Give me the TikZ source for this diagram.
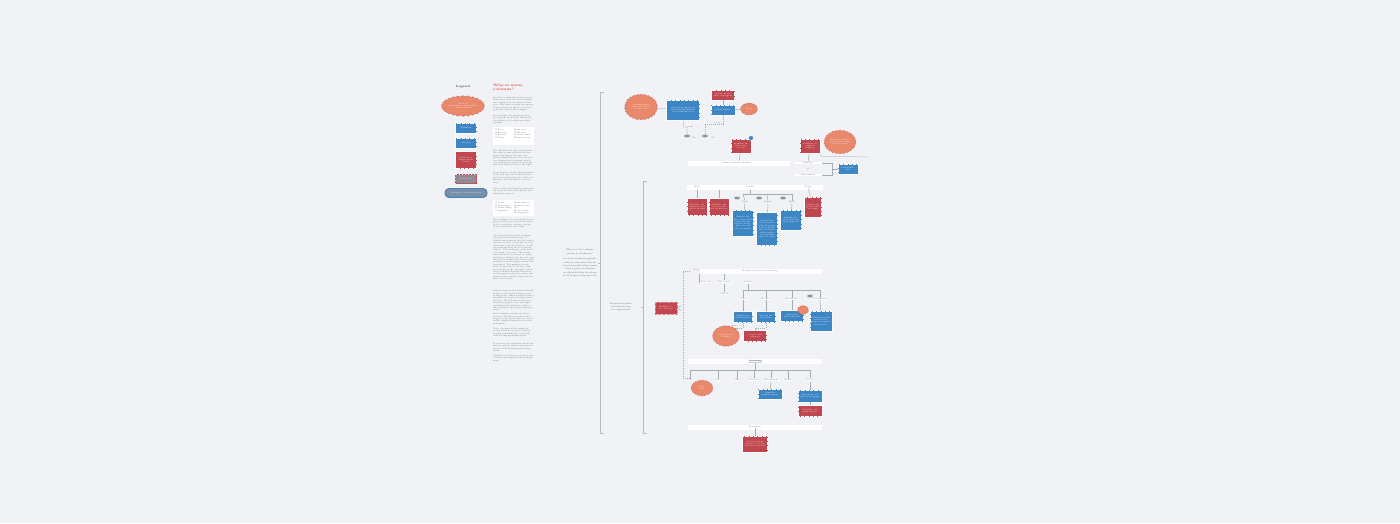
\documentclass[tikz,border=0pt]{standalone}
\usepackage{amssymb}
\usetikzlibrary{shapes.symbols,shapes.geometric,calc}
\definecolor{bg}{HTML}{F0F2F5}
\definecolor{bx}{HTML}{3D86C6}
\definecolor{rd}{HTML}{C0464F}
\definecolor{cl}{HTML}{E9886B}
\definecolor{ln}{HTML}{A4ABB4}
\definecolor{tx}{HTML}{5F6670}
\definecolor{hd}{HTML}{D8443C}
\definecolor{pg}{HTML}{8C949E}
\newcommand\ftiny{\fontsize{1.9}{2.3}\selectfont}
\newcommand\fpara{\fontsize{1.95}{2.4}\selectfont}
\newcommand\fctr{\fontsize{2.2}{3.3}\selectfont}
\tikzset{
  x=1pt, y=-1pt,
  every node/.style={inner sep=0.6pt, font=\ftiny, align=center},
  bluebox/.style={rectangle, fill=bx, draw=white, densely dotted, line width=0.3pt, text=white},
  redbox/.style={rectangle, fill=rd, draw=white, densely dotted, line width=0.3pt, text=white},
  grbox/.style={rectangle, fill=pg!85!rd, draw=rd, densely dotted, line width=0.5pt, text=white},
  pillbox/.style={rectangle, rounded corners=4pt, fill=pg!70!bx, draw=bx, line width=0.9pt, text=white,
     postaction={draw=rd, densely dotted, line width=0.4pt}},
  cloudn/.style={cloud, cloud puffs=26, cloud puff arc=110, cloud ignores aspect, fill=cl, draw=rd, densely dotted, line width=0.5pt, text=white},
  band/.style={rectangle, fill=white, draw=none, text=tx},
  lab/.style={rectangle, fill=white, draw=none, text=tx, inner sep=0.5pt},
  pill/.style={ellipse, fill=pg, draw=white, line width=0.3pt, minimum width=6.5, minimum height=3.6, inner sep=0},
  badge/.style={circle, fill=bx, draw=white, line width=0.4pt, minimum size=5, inner sep=0, text=white},
  para/.style={anchor=north west, text width=41pt, align=left, text=tx, font=\fpara, inner sep=0},
  ctext/.style={text width=36pt, align=center, text=tx, font=\fctr, inner sep=0},
  conn/.style={draw=ln, line width=0.5pt},
  dconn/.style={draw=ln, line width=0.5pt, dash pattern=on 1.2pt off 0.8pt},
  brk/.style={draw=ln!80, line width=0.6pt},
}
\begin{document}
\begin{tikzpicture}
\useasboundingbox (0,0) rectangle (1400,523);
\fill[bg] (0,0) rectangle (1400,523);

% ---------------- Legend ----------------
\node[font=\fontsize{3}{3.5}\selectfont\bfseries, text=tx!70!black] (legt) at (463,87) {Legend};
\node[cloudn, minimum width=38, minimum height=21] (lg1) at (463,106) {Issue or\\improvement opportunity\\in the process};
\node[bluebox, minimum width=21, minimum height=10] (lg2) at (466,128) {Workflow};
\node[bluebox, minimum width=21, minimum height=10] (lg3) at (466,143) {Activity};
\node[redbox, minimum width=21, minimum height=17] (lg4) at (466,160) {Problem or\\Improvement\\Status};
\node[grbox, minimum width=21, minimum height=9] (lg5) at (466,179) {Info Source};
\node[pillbox, minimum width=42, minimum height=9] (lg6) at (466,193) {Reference to other process};

% ---------------- Text column ----------------
\node[anchor=north west, text width=42pt, align=left, text=hd, font=\fontsize{3.4}{4.3}\selectfont\bfseries, inner sep=0] (head) at (493,84) {Why so many columns?};
\node[para] (p1) at (493,97) {In order to show the whole process from end to end, the map includes one column for every phase of the year. The same activity can appear in more than one phase, so it is repeated in each of the columns.};
\node[para] (p2) at (493,115) {For example, the planning activity happens in the first and in the last phase, so it is shown in both columns.};
\node[rectangle, fill=white, minimum width=41, minimum height=18, anchor=north west] (t1) at (493,127) {};
\node[para, text width=19pt] (t1a) at (495,129) {$\square$ Plan\\[0.3pt]$\square$ Execute\\$\square$ Review\\$\square$ Close};
\node[para, text width=19pt] (t1b) at (514,129) {Main actor\\[0.3pt]Team lead\\Process owner\\Finance team};
\node[para] (p3) at (493,150) {We also show the interaction with the other teams and with the systems that support the process. Each column therefore has its own list of inputs and outputs, which is read from the top to the bottom and then from the left to the right.};
\node[para] (p4) at (493,172) {Steps in grey are not owned by this team, but they are needed for the process to work properly. They are shown so that the hand-overs are clear.};
\node[para] (p5) at (493,188) {The second table lists the owners of the steps in each of the phases and their main contact.};
\node[rectangle, fill=white, minimum width=41, minimum height=16, anchor=north west] (t2) at (493,200) {};
\node[para, text width=19pt] (t2a) at (495,202) {$\square$ Actor\\[0.3pt]$\square$ Reporting\\$\square$ Controlling\\$\square$ Approval};
\node[para, text width=19pt] (t2b) at (514,202) {Main contact\\[0.3pt]Business partner\\Head of unit\\Management};
\node[para] (p6) at (493,219) {The columns are repeated for every phase of the year so that the whole cycle is visible at a glance and no step is missed by the teams.};
\node[para] (p7) at (493,235) {The arrows between the columns show the order of the steps. A dashed arrow means that the step is optional or that it depends on a decision that was taken before. A full arrow means that the step always follows. The small grey ovals mark a decision: yes or no. The clouds show where we see issues or opportunities to improve the process, and the red boxes show the status of the problem or of the improvement that is planned. The numbers in the blue circles refer to the list of improvements in the appendix, where each of them is described in more detail together with the owner, the planned date and the expected benefit for the teams.};
\node[para] (p8) at (493,290) {All the steps are described from the point of view of the business partnering team. When another team is involved, its name is written above the box. The left side of the map shows the preparation, the right side shows the follow-up of the results and the reporting to management.\\[1.5pt]Each column is read from top to bottom. The first row shows the trigger of the phase, the last one its result, which is handed over to the next phase.};
\node[para] (p9) at (493,328) {Note: the map will be updated at the end of every cycle with the lessons learned by the team and with the improvements made.};
\node[para] (p10) at (493,343) {If you have any questions about the process, please contact the process owner or the business partnering team.};
\node[para] (p11) at (493,355) {Version 1.2 of the process map, last reviewed and approved by management.};

% ---------------- Brackets and centre texts ----------------
\coordinate (b1t) at (600,92);
\coordinate (b1b) at (600,433);
\coordinate (b1m) at (600,263);
\draw[brk] ($(b1t)+(4,0)$) -- (b1t) -- (b1b) -- ++(4,0);
\draw[brk] (b1m) -- ++(-2.5,0);
\node[ctext] (c1) at (580,263) {Why are the columns shown in all phases?\\[2.5pt]because for phase-specific tasks we also show the interaction with other teams, a short guide on whether we should follow the steps in all stages of the process.};
\coordinate (b2t) at (643,181);
\coordinate (b2b) at (643,433);
\coordinate (b2m) at (643,307);
\draw[brk] ($(b2t)+(4,0)$) -- (b2t) -- (b2b) -- ++(4,0);
\draw[brk] (b2m) -- ++(-2.5,0);
\node[ctext, text width=29pt] (c2) at (621,307) {Prepared by business partnering in cooperation};

% ---------------- Top section ----------------
\node[cloudn, minimum width=33, minimum height=26] (tc1) at (641,107) {Missing input\\from the teams\\at the start};
\node[bluebox, minimum width=33, minimum height=20, text width=30pt] (tb1) at (683,110) {Collect the inputs for the planning from all the teams involved};
\node[redbox, minimum width=23, minimum height=10, text width=21pt] (tr1) at (723,95) {Status: partly done, in progress};
\node[bluebox, minimum width=24, minimum height=10, text width=22pt] (tb2) at (723,110) {Check inputs};
\node[cloudn, minimum width=17, minimum height=12] (tc2) at (749,109) {Delay};
\draw[dconn] (tc1) -- (tb1);
\draw[conn] (tr1) -- (tb2);
\draw[conn] (tb2) -- (tc2);
\node[pill] (pl1) at (687,136) {};
\node[pill] (pl2) at (705,136) {};
\node[text=tx] (yl1) at (694,138) {Yes};
\node[text=tx] (yl2) at (713,138) {No};
\draw[dconn] (tb1.south) -- (684,127) -| (pl1.north);
\draw[dconn] (tb2.south) -- (723,124) -| (pl2.north);
\node[text=tx] (tl1) at (690,127) {if ok};
\node[text=tx] (tl2) at (717,123) {if not};
\node[redbox, minimum width=20, minimum height=14, text width=18pt] (tr2) at (741,146) {Problem: inputs come too late};
\node[badge] (bd1) at (751,138) {1};
\node[band, minimum width=102, minimum height=5] (band1) at (739,163) {};
\node[lab] (band1l) at (737,163) {Input collection finished};
\draw[conn] (tr2) -- (band1);
\node[redbox, minimum width=20, minimum height=14, text width=18pt] (tr3) at (810,146) {Problem: no common template};
\node[cloudn, minimum width=32, minimum height=24] (tc3) at (840,142) {Different formats\\used by the teams\\for the inputs};
\node[lab, minimum width=28] (r1) at (808,163) {Template};
\node[text=tx] (ror) at (808,169) {or};
\node[lab, minimum width=28] (r2) at (808,175) {Own format};
\node[bluebox, minimum width=20, minimum height=10, text width=18pt] (tb3) at (848,169) {Consolidate data};
\draw[conn] (tr3) -- (r1);
\draw[dconn] (tr3.south east) -- ++(0,3) -- (868,157);
\draw[conn] (r1.east) -- (832,163) -- (832,175) -- (r2.east);
\draw[conn] (832,169) -- (tb3.west);

% ---------------- Middle section ----------------
\node[band, minimum width=136, minimum height=5] (band2) at (755,187) {};
\node[lab] (m1) at (697,187) {Main};
\node[lab] (m2) at (750,187) {Lorem};
\node[lab] (m3) at (808,187) {Thing};
\node[redbox, minimum width=20, minimum height=17, text width=18pt] (mr1) at (697,207) {Problem: the targets are not agreed in time};
\node[redbox, minimum width=20, minimum height=17, text width=18pt] (mr2) at (719,207) {Problem: the owner of the data is unclear};
\draw[conn] (697,189.5) -- (mr1);
\draw[conn] (719,189.5) -- (mr2);
\coordinate (mj) at (750,194);
\draw[conn] (750,189.5) -- (mj);
\draw[conn] (743,194) -- (792,194);
\node[pill] (mp1) at (737,198) {};
\node[pill] (mp2) at (759,198) {};
\node[pill] (mp3) at (783,198) {};
\node[text=tx] (ml1) at (745,202) {Draft};
\node[text=tx] (ml2) at (768,202) {Review};
\node[text=tx] (ml3) at (792,202) {Final};
\draw[conn] (743,194) -- (ml1);
\draw[conn] (767,194) -- (ml2);
\draw[conn] (792,194) -- (ml3);
\node[bluebox, minimum width=21, minimum height=26, text width=19pt] (mb1) at (743,223) {Prepare the first draft of the plan with the figures of the last year and the new inputs};
\node[bluebox, minimum width=21, minimum height=33, text width=19pt] (mb2) at (767,229) {Review the draft together with the teams, adjust the figures and agree on the targets for each unit and cost center};
\node[bluebox, minimum width=21, minimum height=20, text width=19pt] (mb3) at (791,220) {Finalize the plan and send it for approval};
\draw[conn] (ml1) -- (mb1);
\draw[conn] (ml2) -- (mb2);
\draw[conn] (ml3) -- (mb3);
\node[redbox, minimum width=17, minimum height=20, text width=15pt] (mr3) at (813,207) {Status: approval takes too long};
\draw[conn] (m3) -- (mr3);

% ---------------- Lower section ----------------
\draw[dconn] (690,271) -- (683,271) -- (683,378) -- (690,378);
\node[text=tx] (ll0) at (696,270) {Start};
\node[band, minimum width=122, minimum height=5] (band3) at (761,271) {};
\node[lab] (band3l) at (760,271) {Monthly forecast and reporting};
\node[redbox, minimum width=22, minimum height=12, text width=20pt, draw=rd!60!white] (lr0) at (666,308) {Monthly cycle: forecast};
\draw[conn] (lr0.east) -- (681,305.5) (lr0.east) -- (681,310.5);
\node[lab] (s1) at (706,282) {Data pull};
\node[lab] (s2) at (724,282) {SAP export};
\node[lab, minimum width=12] (s3) at (748,282) {Analysis};
\draw[conn] (699,273.5) -- (699,282) -- (s1.west);
\draw[conn] (724,273.5) -- (s2);
\node[lab] (s2b) at (724,294) {Upload};
\draw[conn] (s2) -- (s2b);
\coordinate (lj) at (748,290);
\draw[conn] (s3) -- (lj);
\draw[conn] (743,290) -- (820,290);
\node[lab] (q1) at (743,299) {Costs};
\node[lab] (q2) at (766,299) {Revenue};
\node[lab] (q3) at (792,299) {Headcount};
\node[lab] (q4) at (820,299) {Investments};
\node[pill] (qp) at (810,296) {};
\draw[conn] (743,290) -- (q1);
\draw[conn] (766,290) -- (q2);
\draw[conn] (792,290) -- (q3);
\draw[conn] (820,290) -- (q4);
\node[bluebox, minimum width=19, minimum height=11, text width=17pt] (lb1) at (743,317) {Compare actuals and plan};
\node[bluebox, minimum width=19, minimum height=11, text width=17pt] (lb2) at (766,317) {Explain the deviations};
\node[bluebox, minimum width=23, minimum height=11, text width=21pt] (lb3) at (792,316) {Update the headcount list};
\node[bluebox, minimum width=22, minimum height=20, text width=20pt] (lb4) at (821,321) {Check the status of the investments and update the forecast};
\draw[conn] (q1) -- (lb1);
\draw[conn] (q2) -- (lb2);
\draw[conn] (q3) -- (lb3);
\draw[conn] (q4) -- (lb4);
\node[cloudn, cloud puffs=14, minimum width=11, minimum height=9] (lc1) at (803,310) {};
\node[cloudn, minimum width=27, minimum height=21] (lc2) at (726,336) {Manual work\\in Excel};
\node[redbox, minimum width=23, minimum height=11, text width=21pt] (lr1) at (755,336) {Status: tool planned};
\draw[dconn] (lb1.south) -- (743,328) -| (lc2.north east);
\draw[dconn] (lb2.south) -- (766,328) -| (lr1.north);
\node[text=tx] (ln1) at (734,326) {often};
\node[band, minimum width=134, minimum height=5] (band4) at (755,361) {};
\node[lab, draw=ln!60, line width=0.3pt] (band4l) at (755,361) {Reporting};
\coordinate (rj) at (755,370);
\draw[conn] (band4l) -- (rj);
\draw[conn] (690,370) -- (810,370);
\node[lab] (u1) at (690,380) {Cost};
\node[lab] (u2) at (718,380) {Sales};
\node[lab] (u3) at (737,380) {HR};
\node[lab] (u4) at (754,380) {Projects};
\node[lab] (u5) at (771,380) {Management};
\node[lab] (u6) at (788,380) {Board};
\node[lab] (u7) at (810,380) {Group};
\foreach \xx/\nn in {690/u1,718/u2,737/u3,754/u4,771/u5,788/u6,810/u7}
  \draw[conn] (\xx,370) -- (\nn);
\node[cloudn, cloud puffs=20, minimum width=22, minimum height=16] (lc3) at (702,388) {Late\\data};
\node[bluebox, minimum width=24, minimum height=10, text width=22pt] (lb5) at (770,394) {Send the monthly report};
\node[bluebox, minimum width=24, minimum height=12, text width=22pt] (lb6) at (810,396) {Present the results to the group};
\node[redbox, minimum width=24, minimum height=11, text width=22pt] (lr2) at (810,411) {Problem: too many reports};
\draw[conn] (u5) -- (lb5);
\draw[conn] (u7) -- (lb6);
\draw[conn] (lb6) -- (lr2);
\node[band, minimum width=134, minimum height=5] (band5) at (755,427) {};
\node[lab] (band5l) at (755,427) {Evaluation};
\node[redbox, minimum width=25, minimum height=16, text width=23pt] (lr3) at (755,444) {Status: lessons learned to be collected at year end};
\draw[conn] (band5l) -- (lr3);
\end{tikzpicture}
\end{document}
